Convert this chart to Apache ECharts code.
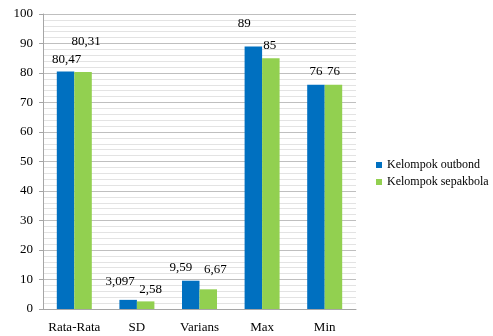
<!DOCTYPE html>
<html>
<head>
<meta charset="utf-8">
<script src="https://cdn.jsdelivr.net/npm/echarts@6/dist/echarts.min.js"></script>
<style>
  html, body { margin: 0; padding: 0; background: #fff; }
  #chart { width: 493px; height: 336px; }
</style>
</head>
<body>
<div id="chart"></div>
<script>
// Descriptive statistics for the two groups
const categories = ['Rata-Rata', 'SD', 'Varians', 'Max', 'Min'];
const outbond = [80.47, 3.097, 9.59, 89, 76];
const sepakbola = [80.31, 2.58, 6.67, 85, 76];
const seriesNames = ['Kelompok outbond', 'Kelompok sepakbola'];
const yTicks = [0, 10, 20, 30, 40, 50, 60, 70, 80, 90, 100];

// Label nudges so the value labels sit where the report layout placed them
const outbondLabelShift = [[1, -1], [-8, -7], [-10, -2], [-9, -11], [0, -2]];
const sepakbolaLabelShift = [[3, -19], [5, 0], [7, -8], [-1, -1], [0, -2]];

const fmt = v => String(v).replace('.', ',');
const font = 'Liberation Serif';

function buildData(values, shifts) {
  return values.map((v, i) => ({
    value: v,
    label: { offset: shifts[i] }
  }));
}

const chart = echarts.init(document.getElementById('chart'), null, { renderer: 'canvas' });
chart.setOption({
  animation: false,
  textStyle: { fontFamily: font },
  grid: { left: 43, right: 137, top: 14, bottom: 27, containLabel: false },
  legend: {
    orient: 'vertical',
    left: 376,
    top: 158,
    padding: 0,
    itemWidth: 6,
    itemHeight: 6,
    itemGap: 3,
    icon: 'rect',
    textStyle: { fontFamily: font, fontSize: 12, color: '#000', padding: [0, 0, 0, 0], lineHeight: 14 },
    data: seriesNames
  },
  xAxis: {
    type: 'category',
    data: categories,
    axisLine: { lineStyle: { color: '#a6a6a6' } },
    axisTick: { show: false },
    axisLabel: { color: '#000', fontSize: 13, fontFamily: font, margin: 12, interval: 0 }
  },
  yAxis: {
    type: 'value',
    min: yTicks[0],
    max: yTicks[yTicks.length - 1],
    interval: 10,
    axisLine: { show: true, lineStyle: { color: '#a6a6a6' } },
    axisTick: { show: true, length: 4, lineStyle: { color: '#a6a6a6' } },
    axisLabel: { color: '#000', fontSize: 13, fontFamily: font, margin: 10 },
    splitLine: { lineStyle: { color: '#bfbfbf' } },
    minorTick: { show: false, splitNumber: 5 },
    minorSplitLine: { show: true, lineStyle: { color: '#e3e3e3' } }
  },
  series: [
    {
      name: seriesNames[0],
      type: 'bar',
      data: buildData(outbond, outbondLabelShift),
      barWidth: 17.5,
      barGap: '0%',
      itemStyle: { color: '#0070C0' },
      label: {
        show: true, position: 'top', color: '#000', fontSize: 13, fontFamily: font,
        formatter: p => fmt(p.value)
      }
    },
    {
      name: seriesNames[1],
      type: 'bar',
      data: buildData(sepakbola, sepakbolaLabelShift),
      barWidth: 17.5,
      barGap: '0%',
      itemStyle: { color: '#92D050' },
      label: {
        show: true, position: 'top', color: '#000', fontSize: 13, fontFamily: font,
        formatter: p => fmt(p.value)
      }
    }
  ]
});
</script>
</body>
</html>
